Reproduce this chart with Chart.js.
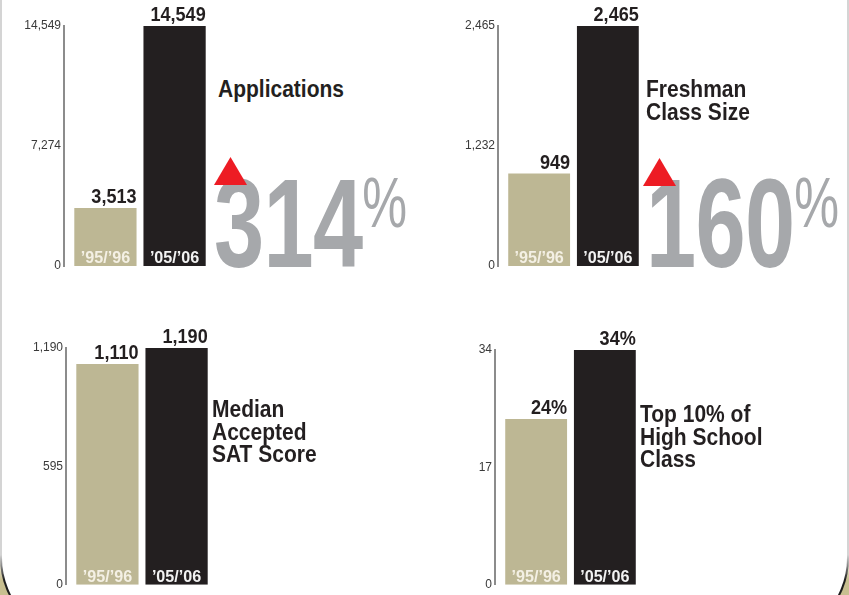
<!DOCTYPE html>
<html>
<head>
<meta charset="utf-8">
<script src="https://cdn.jsdelivr.net/npm/chart.js@4"></script>
<style>
  html, body { margin: 0; padding: 0; }
  body {
    width: 849px; height: 595px; overflow: hidden; position: relative;
    background: linear-gradient(to bottom, #ffffff 0, #ffffff 555px, #c8bf90 580px);
    font-family: "Liberation Sans", Arial, sans-serif;
  }
  #frame {
    position: absolute; left: 0; top: -100px; width: 849px; height: 740px;
    border-radius: 82px;
    background: linear-gradient(to bottom, #d4d4d4 0, #d4d4d4 655px, #1e1e1e 680px);
  }
  #frame .inner {
    position: absolute; left: 2px; top: 2px; right: 2px; bottom: 2px;
    border-radius: 80px; background: #fff;
  }
  canvas { position: absolute; }
  .title {
    position: absolute; font-weight: bold; font-size: 24px; line-height: 22.5px;
    color: #231f20; white-space: nowrap;
    transform: scaleX(0.875); transform-origin: 0 0;
  }
  .big {
    position: absolute; line-height: 1; white-space: nowrap; color: #a6a8ab;
    font-weight: bold; transform: scaleX(0.71); transform-origin: 0 0;
  }
  .big .num { font-size: 127px; letter-spacing: -1px; }
  .big .pct { font-size: 71px; font-weight: normal; vertical-align: top; position: relative; top: 7px; }
  .tri {
    position: absolute; width: 33px; height: 28px; background: #ed1c24;
    clip-path: polygon(50% 0, 100% 100%, 0 100%); z-index: 2;
  }
</style>
</head>
<body>
<div id="frame"><div class="inner"></div></div>

<script>
const years = ['\u201995/\u201996', '\u201905/\u201906'];

const applications = [3513, 14549];
const freshmanClass = [949, 2465];
const satScore = [1110, 1190];
const topTenPct = [24, 34];

const applicationsTicks = [0, 7274, 14549];
const freshmanTicks = [0, 1232, 2465];
const satTicks = [0, 595, 1190];
const topTenTicks = [0, 17, 34];

const titles = [
  ['Applications'],
  ['Freshman', 'Class Size'],
  ['Median', 'Accepted', 'SAT Score'],
  ['Top 10% of', 'High School', 'Class']
];

const FONT = '"Liberation Sans", Arial, sans-serif';
const tan = '#bdb794';
const black = '#231f20';

// where each little chart sits on the page
const panels = [
  { values: applications, ticks: applicationsTicks, suffix: '', title: titles[0],
    left: 0, top: 0, w: 216, h: 280, padTop: 26, padBottom: 14,
    titleX: 218, titleY: 78, big: { x: 214, y: 160, triX: 214, triY: 157 } },
  { values: freshmanClass, ticks: freshmanTicks, suffix: '', title: titles[1],
    left: 434, top: 0, w: 215, h: 280, padTop: 26, padBottom: 14,
    titleX: 646, titleY: 78, big: { x: 646, y: 160, triX: 643, triY: 158 } },
  { values: satScore, ticks: satTicks, suffix: '', title: titles[2],
    left: 2, top: 290, w: 216, h: 305, padTop: 58, padBottom: 6,
    titleX: 212, titleY: 398 },
  { values: topTenPct, ticks: topTenTicks, suffix: '%', title: titles[3],
    left: 431, top: 290, w: 215, h: 305, padTop: 60, padBottom: 6,
    titleX: 640, titleY: 403 }
];

const barLabels = {
  id: 'barLabels',
  afterDatasetsDraw(chart, args, opts) {
    const ctx = chart.ctx;
    chart.data.datasets.forEach((ds, i) => {
      const bar = chart.getDatasetMeta(i).data[0];
      const right = bar.x + bar.width / 2;
      // value above the bar, flush right, condensed
      ctx.save();
      ctx.translate(right, bar.y - 5);
      ctx.scale(0.86, 1);
      ctx.font = 'bold 21px ' + FONT;
      ctx.fillStyle = black;
      ctx.textAlign = 'right';
      ctx.textBaseline = 'alphabetic';
      ctx.fillText(ds.data[0].toLocaleString('en-US') + opts.suffix, 0, 0);
      ctx.restore();
      // year inside the bar
      ctx.save();
      ctx.translate(bar.x, bar.base - 3);
      ctx.scale(0.95, 1);
      ctx.font = 'bold 17px ' + FONT;
      ctx.fillStyle = i === 0 ? '#f4f0e4' : '#f2f2f2';
      ctx.textAlign = 'center';
      ctx.textBaseline = 'alphabetic';
      ctx.fillText(ds.label, 0, 0);
      ctx.restore();
    });
  }
};

function addText(p) {
  const t = document.createElement('div');
  t.className = 'title';
  t.style.left = p.titleX + 'px';
  t.style.top = p.titleY + 'px';
  t.innerHTML = p.title.join('<br>');
  document.body.appendChild(t);

  if (p.big) {
    const change = Math.round((p.values[1] - p.values[0]) / p.values[0] * 100);
    const b = document.createElement('div');
    b.className = 'big';
    b.style.left = p.big.x + 'px';
    b.style.top = p.big.y + 'px';
    b.innerHTML = '<span class="num">' + change + '</span><span class="pct">%</span>';
    document.body.appendChild(b);
    const tri = document.createElement('div');
    tri.className = 'tri';
    tri.style.left = p.big.triX + 'px';
    tri.style.top = p.big.triY + 'px';
    document.body.appendChild(tri);
  }
}

function makeChart(p) {
  const canvas = document.createElement('canvas');
  canvas.width = p.w;
  canvas.height = p.h;
  canvas.style.left = p.left + 'px';
  canvas.style.top = p.top + 'px';
  canvas.style.width = p.w + 'px';
  canvas.style.height = p.h + 'px';
  document.body.appendChild(canvas);

  new Chart(canvas, {
    type: 'bar',
    data: {
      labels: [p.title.join(' ')],
      datasets: [
        { label: years[0], data: [p.values[0]], backgroundColor: tan },
        { label: years[1], data: [p.values[1]], backgroundColor: black }
      ]
    },
    options: {
      responsive: false,
      animation: false,
      devicePixelRatio: 1,
      categoryPercentage: 0.91,
      barPercentage: 0.9,
      layout: { padding: { top: p.padTop, bottom: p.padBottom, left: 0, right: 0 } },
      plugins: {
        legend: { display: false },
        tooltip: { enabled: false },
        barLabels: { suffix: p.suffix }
      },
      scales: {
        x: { display: false },
        y: {
          min: 0,
          max: p.ticks[p.ticks.length - 1],
          afterBuildTicks: s => { s.ticks = p.ticks.map(v => ({ value: v })); },
          afterFit: s => { s.width = 64; },
          grid: { display: false, drawTicks: false },
          border: { display: true, color: '#8c8c8c', width: 2 },
          ticks: {
            padding: 3,
            color: '#3a3a3a',
            font: { family: FONT, size: 12 },
            callback: v => v.toLocaleString('en-US')
          }
        }
      }
    },
    plugins: [barLabels]
  });
}

panels.forEach(p => { makeChart(p); addText(p); });
</script>
</body>
</html>
